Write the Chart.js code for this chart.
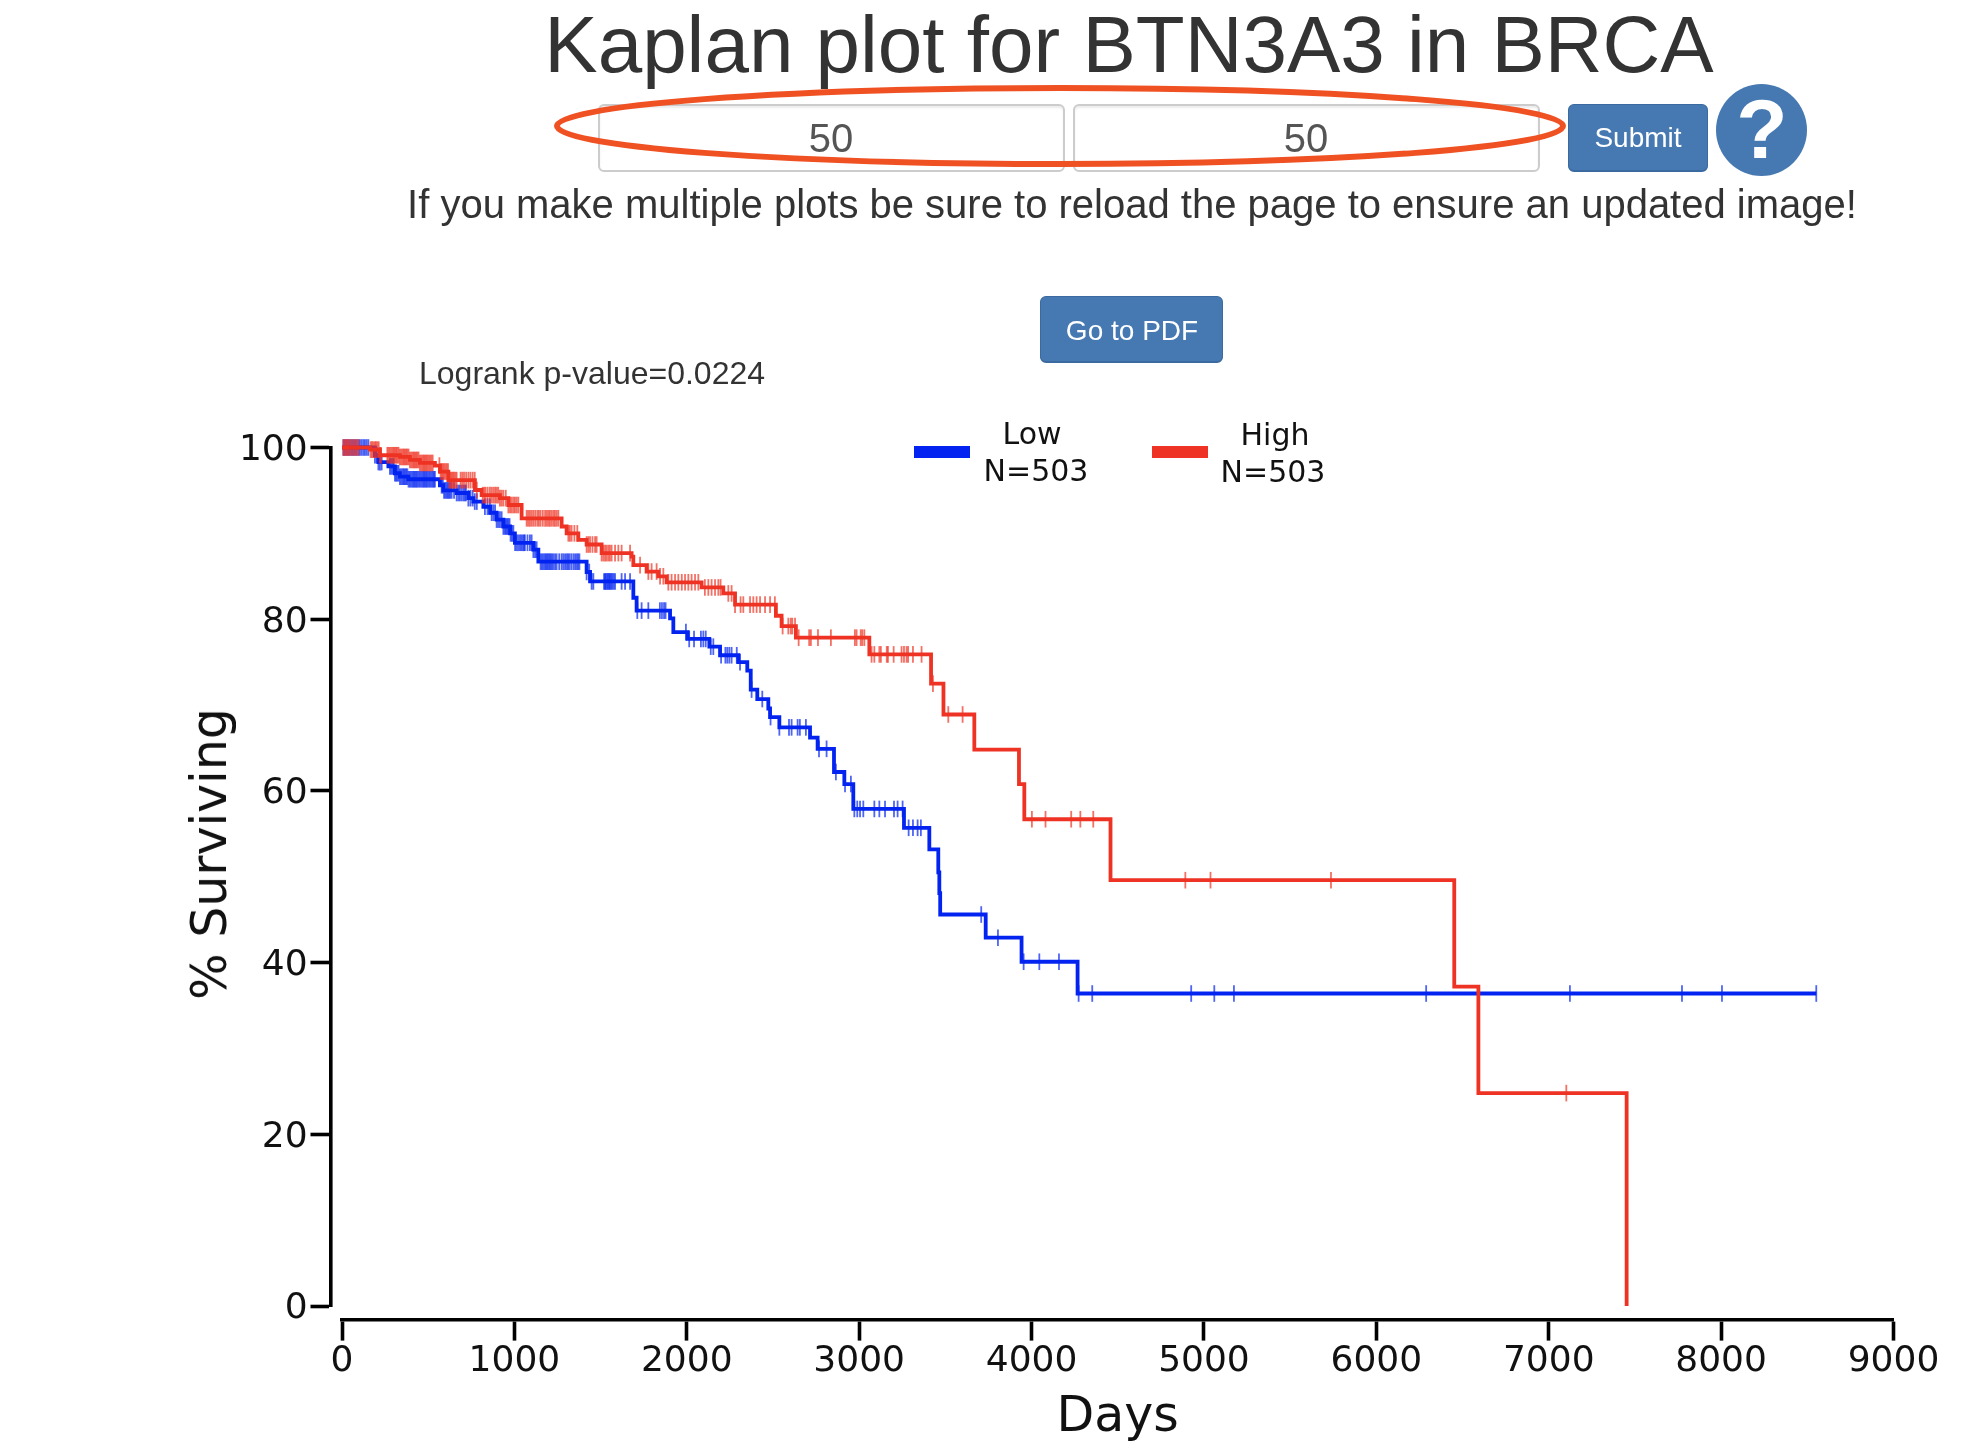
<!DOCTYPE html>
<html><head><meta charset="utf-8">
<script src="https://cdn.jsdelivr.net/npm/chart.js@4/dist/chart.umd.js"></script>
<style>
html,body{margin:0;padding:0;background:#fff;width:1968px;height:1442px;overflow:hidden}
#c{position:absolute;left:0;top:0;width:1968px;height:1442px}
.t{position:absolute;white-space:pre;font-family:"Liberation Sans",Arial,sans-serif;color:#333}
.c{transform:translateX(-50%)}
.box{position:absolute;box-sizing:border-box;border:2px solid #ccc;border-radius:6px;background:#fff;box-shadow:inset 0 2px 2px rgba(0,0,0,.08)}
.btn{position:absolute;box-sizing:border-box;background:#4679b2;border:1px solid #3a6a9f;border-bottom:2px solid #3a6a9f;border-radius:6px}
.d{font-family:"DejaVu Sans";color:#111}
.sw{position:absolute;height:12px;width:56px;top:446px}
svg{position:absolute;left:0;top:0}
</style></head><body>
<canvas id="c" width="1968" height="1442"></canvas>
<div class="box" style="left:598px;top:104px;width:467px;height:68px"></div>
<div class="box" style="left:1073px;top:104px;width:467px;height:68px"></div>
<div class="t c" style="left:831px;top:104px;font-size:40px;line-height:68px;color:#555">50</div>
<div class="t c" style="left:1306px;top:104px;font-size:40px;line-height:68px;color:#555">50</div>
<svg width="1968" height="200"><ellipse cx="1060" cy="126" rx="503" ry="38" fill="none" stroke="#f05123" stroke-width="6"/></svg>
<div class="btn" style="left:1568px;top:104px;width:140px;height:68px"></div>
<div class="btn" style="left:1040px;top:296px;width:183px;height:67px"></div>
<div style="position:absolute;left:1716px;top:84px;width:91px;height:92px;border-radius:50%;background:#4679b2"></div>
<div class="t c" style="left:1129px;top:5px;font-size:80px;line-height:80px">Kaplan plot for BTN3A3 in BRCA</div>
<div class="t c" style="left:1638px;top:104px;font-size:28px;line-height:68px;color:#fff">Submit</div>
<div class="t c" style="left:1762px;top:79px;font-size:84px;line-height:100px;color:#fff;font-weight:bold">?</div>
<div class="t c" style="left:1132px;top:184px;font-size:40px;line-height:40px">If you make multiple plots be sure to reload the page to ensure an updated image!</div>
<div class="t c" style="left:1132px;top:297px;font-size:28px;line-height:67px;color:#fff">Go to PDF</div>
<div class="t" style="left:419px;top:355px;font-size:32px;line-height:36px">Logrank p-value=0.0224</div>
<div class="sw" style="left:914px;background:#0324f0"></div>
<div class="sw" style="left:1152px;background:#ee3324"></div>
<div class="t c d" style="left:1032px;top:416px;font-size:30px;line-height:36px">Low</div>
<div class="t c d" style="left:1036px;top:453px;font-size:30px;line-height:36px">N=503</div>
<div class="t c d" style="left:1275px;top:417px;font-size:30px;line-height:36px">High</div>
<div class="t c d" style="left:1273px;top:454px;font-size:30px;line-height:36px">N=503</div>
<div class="t d" style="left:210px;top:854px;font-size:49px;line-height:56px;transform:translate(-50%,-50%) rotate(-90deg)">% Surviving</div>
<script>
const xTicks = [0,1000,2000,3000,4000,5000,6000,7000,8000,9000];
const yTicks = [0,20,40,60,80,100];

const lowDays = [0,191,211,269,307,336,385,568,588,665,733,762,820,859,897,936,975,1003,1110,1139,1419,1439,1690,1709,1903,1922,2005,2131,2193,2299,2351,2371,2409,2473,2483,2537,2715,2759,2854,2914,2966,3260,3407,3459,3465,3470,3734,3942,4267,8552];
const lowSurv = [100,99.1,98.3,97.8,97.0,96.6,96.3,95.6,95.0,94.7,94.1,93.7,93.1,92.4,91.6,90.8,90.0,88.9,88.1,86.7,85.5,84.4,82.5,81.0,80.1,78.5,77.7,76.8,75.8,75.0,74.0,71.8,70.7,69.6,68.6,67.4,66.2,64.9,62.2,60.8,57.9,55.7,53.2,50.5,48.1,45.6,42.9,40.1,36.4,36.4];
const lowCensored = [8,17,27,36,46,56,65,75,85,95,104,114,124,133,143,153,191,201,211,220,230,278,286,294,300,307,314,321,328,336,344,352,358,365,372,379,386,394,402,410,416,423,430,437,444,452,460,468,474,481,488,495,502,510,518,526,532,539,578,585,592,600,607,614,621,628,636,650,665,675,684,694,704,712,719,733,745,758,770,782,829,844,858,868,878,888,897,906,916,926,936,944,951,958,965,972,978,986,994,1004,1013,1022,1032,1040,1048,1055,1061,1076,1090,1100,1110,1120,1129,1152,1160,1168,1176,1183,1190,1197,1204,1210,1218,1226,1236,1245,1260,1274,1284,1294,1303,1311,1319,1330,1342,1352,1361,1369,1377,1419,1434,1448,1458,1520,1526,1531,1538,1544,1550,1555,1562,1568,1576,1584,1622,1642,1671,1713,1738,1777,1844,1856,1868,1877,1995,2014,2042,2082,2096,2110,2139,2154,2199,2224,2235,2247,2260,2290,2309,2376,2438,2486,2537,2593,2608,2643,2656,2691,2767,2811,2865,2918,2952,2972,2989,3005,3024,3088,3117,3150,3202,3223,3252,3287,3312,3339,3358,3708,3805,3954,4045,4159,4273,4352,4926,5060,5174,6289,7123,7773,8005,8552];

const highDays = [0,162,220,336,394,452,539,568,617,771,810,916,965,1042,1274,1303,1371,1419,1506,1680,1690,1767,1835,1883,2086,2212,2280,2517,2550,2633,3059,3417,3489,3668,3927,3958,4458,6452,6592,7452];
const highSurv = [100,99.75,99.1,98.9,98.55,98.2,97.9,97.2,96.2,95.05,94.45,94.1,93.3,91.75,90.8,90.0,89.25,88.7,87.7,87.3,86.3,85.55,85.0,84.3,83.7,83.0,81.7,80.4,79.2,77.85,75.9,72.5,68.9,64.8,60.8,56.7,49.6,37.2,24.8,0];
const highCensored = [8,15,23,30,38,46,56,66,76,85,95,166,174,182,190,197,205,213,220,226,263,270,278,286,294,300,307,314,321,328,336,344,352,358,365,372,379,386,394,402,410,416,423,430,437,444,452,460,468,474,481,488,495,502,510,518,526,565,572,578,585,592,600,607,615,623,630,636,643,650,658,665,688,698,708,720,733,745,758,770,782,816,825,833,845,858,868,878,888,897,906,916,926,936,950,965,975,984,994,1003,1013,1023,1071,1080,1090,1100,1110,1121,1133,1142,1152,1165,1178,1188,1197,1206,1216,1226,1235,1245,1255,1313,1322,1332,1348,1365,1419,1429,1439,1453,1468,1477,1506,1516,1526,1535,1545,1554,1564,1584,1603,1622,1671,1729,1777,1796,1825,1845,1864,1893,1912,1932,1951,1971,1990,2009,2028,2048,2067,2105,2125,2144,2164,2183,2196,2241,2260,2280,2312,2328,2367,2386,2405,2425,2454,2483,2511,2556,2589,2603,2612,2628,2649,2710,2720,2761,2836,2975,2985,3009,3018,3030,3072,3088,3117,3126,3160,3167,3200,3246,3260,3275,3284,3312,3362,3428,3517,3600,4002,4081,4230,4283,4358,4892,5038,5737,7102];

const LOW = '#0324f0', HIGH = '#ee3324';
const levelAt = (days, surv, t) => { let v = surv[0]; for (let i = 0; i < days.length; i++) { if (days[i] <= t) v = surv[i]; } return v; };
const steps = (days, surv) => days.map((d, i) => ({x: d, y: surv[i]}));
const marks = (cens, days, surv) => cens.map(d => ({x: d, y: levelAt(days, surv, d)}));
const curve = (label, pts, color, order) => ({type:'line', label, data:pts, stepped:true, borderColor:color, borderWidth:3.8, pointRadius:0, fill:false, clip:false, order});
const censor = (label, pts, color, order) => ({type:'scatter', label, data:pts, showLine:false, pointStyle:'line', rotation:90, pointRadius:8.3, pointBorderWidth:1.8, pointBorderColor:color+'b3', pointHoverRadius:8.3, clip:false, order});

Chart.defaults.font.family = '"DejaVu Sans"';
new Chart(document.getElementById('c'), {
  type:'line',
  data:{datasets:[
    curve('Low', steps(lowDays, lowSurv), LOW, 3),
    censor('Low censored', marks(lowCensored, lowDays, lowSurv), LOW, 2),
    curve('High', steps(highDays, highSurv), HIGH, 1),
    censor('High censored', marks(highCensored, highDays, highSurv), HIGH, 0)
  ]},
  options:{
    responsive:false, animation:false, devicePixelRatio:1,
    layout:{padding:{left:342, right:74.5, top:447.5, bottom:136}},
    plugins:{legend:{display:false}, tooltip:{enabled:false}},
    scales:{
      x:{type:'linear', min:0, max:9000, position:{y:-1.55},
        afterBuildTicks:s=>{s.ticks = xTicks.map(v=>({value:v}));},
        border:{color:'#000', width:3.6},
        grid:{drawOnChartArea:false, color:'#000', tickLength:19, tickWidth:3.6},
        ticks:{color:'#111', font:{size:36}, padding:2, maxRotation:0, autoSkip:false, callback:v=>String(v)},
        title:{display:true, text:'Days', color:'#111', font:{size:49}, padding:{top:3,bottom:0}}},
      y:{type:'linear', min:0, max:100, position:{x:-66.7},
        afterBuildTicks:s=>{s.ticks = yTicks.map(v=>({value:v}));},
        border:{color:'#000', width:3.6},
        grid:{drawOnChartArea:false, color:'#000', tickLength:18.5, tickWidth:3.6},
        ticks:{color:'#111', font:{size:36, lineHeight:'6px'}, autoSkip:false, callback:v=>['',String(v)+'\u00a0\u00a0']}}
    }
  }
});
</script>
</body></html>
